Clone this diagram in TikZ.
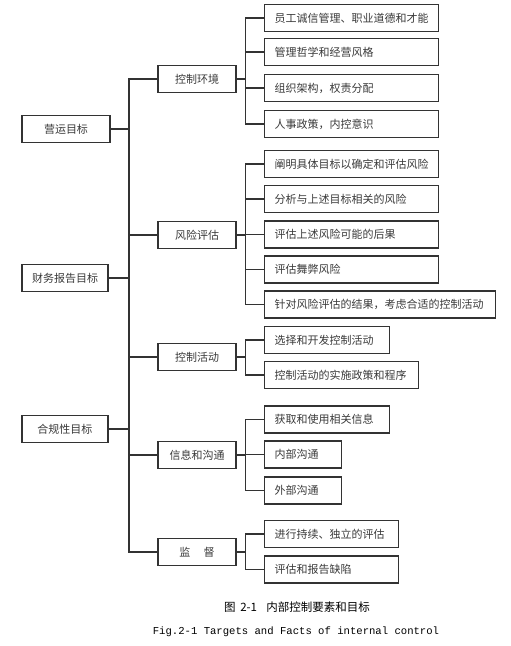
\documentclass[tikz,border=0pt]{standalone}
\usepackage{fontspec}
\newfontfamily\cjk{Noto Sans CJK SC}
\newfontfamily\capmono{Liberation Mono}
\usetikzlibrary{positioning}
\definecolor{cLine}{HTML}{333333}
\definecolor{cText}{HTML}{3A3A3A}

\begin{document}
\begin{tikzpicture}[x=1pt,y=-1pt,
   line width=1.1pt,
   box/.style={draw=cLine,fill=white,line width=1.2pt,minimum height=27pt,
               inner sep=0pt,text=cText,font=\cjk\fontsize{11}{13}\selectfont},
   goal/.style={box,minimum width=#1},
   part/.style={box,minimum width=78pt},
   leaf/.style={box,anchor=west,align=left,inner xsep=10pt,text width=#1}]
  \useasboundingbox (0,0) rectangle (511,646);
  \fill[white] (0,0) rectangle (511,646);
  % objectives
  \node[goal=88pt] (ops) at (66,129) {营运目标};
  \node[goal=86pt] (fin) at (65,278) {财务报告目标};
  \node[goal=86pt] (law) at (65,429) {合规性目标};
  % components
  \node[part] (env)  at (197,79)  {控制环境};
  \node[part] (risk) at (197,235) {风险评估};
  \node[part] (act)  at (197,357) {控制活动};
  \node[part] (info) at (197,455) {信息和沟通};
  \node[part] (mon)  at (197,552) {监\hspace{1.2em}督};
  \coordinate (trunk) at (129,0);
  % principles
  \node[leaf=154pt] (env1) at (264,18)  {员工诚信管理、职业道德和才能};
  \node[leaf=154pt] (env2) at (264,52)  {管理哲学和经营风格};
  \node[leaf=154pt] (env3) at (264,88)  {组织架构，权责分配};
  \node[leaf=154pt] (env4) at (264,124) {人事政策，内控意识};
  \node[leaf=154pt] (risk1) at (264,164)   {阐明具体目标以确定和评估风险};
  \node[leaf=154pt] (risk2) at (264,199)   {分析与上述目标相关的风险};
  \node[leaf=154pt] (risk3) at (264,234.5) {评估上述风险可能的后果};
  \node[leaf=154pt] (risk4) at (264,269.5) {评估舞弊风险};
  \node[leaf=211pt] (risk5) at (264,304.5) {针对风险评估的结果，考虑合适的控制活动};
  \node[leaf=105pt] (act1) at (264,340) {选择和开发控制活动};
  \node[leaf=134pt] (act2) at (264,375) {控制活动的实施政策和程序};
  \node[leaf=105pt] (info1) at (264,419.5) {获取和使用相关信息};
  \node[leaf=57pt]  (info2) at (264,454.5) {内部沟通};
  \node[leaf=57pt]  (info3) at (264,490.5) {外部沟通};
  \node[leaf=114pt] (mon1) at (264,534)   {进行持续、独立的评估};
  \node[leaf=114pt] (mon2) at (264,569.5) {评估和报告缺陷};
  % trunk
  \draw[cLine] (env.west) -| (trunk |- mon.west) -- (mon.west);
  \foreach \p in {risk,act,info}
    \draw[cLine] (\p.west) -- (\p.west -| trunk);
  \foreach \g in {ops,fin,law}
    \draw[cLine] (\g.east) -- (\g.east -| trunk);
  % branches
  \foreach \c in {env1,env2,env3,env4}
    \draw[cLine] (env.east) -- ++(9,0) |- (\c.west);
  \foreach \c in {risk1,risk2,risk3,risk4,risk5}
    \draw[cLine] (risk.east) -- ++(9,0) |- (\c.west);
  \foreach \c in {act1,act2}
    \draw[cLine] (act.east) -- ++(9,0) |- (\c.west);
  \foreach \c in {info1,info2,info3}
    \draw[cLine] (info.east) -- ++(9,0) |- (\c.west);
  \foreach \c in {mon1,mon2}
    \draw[cLine] (mon.east) -- ++(9,0) |- (\c.west);
  % caption
  \node[font=\cjk\fontsize{11.5}{13}\selectfont,text=black] (capzh) at (297,607)
     {图\hspace{0.4em}2-1\hspace{0.8em}内部控制要素和目标};
  \node[font=\capmono\fontsize{10.6}{12}\selectfont,text=black] (capen) at (296,632)
     {Fig.2-1 Targets and Facts of internal control};
\end{tikzpicture}
\end{document}
